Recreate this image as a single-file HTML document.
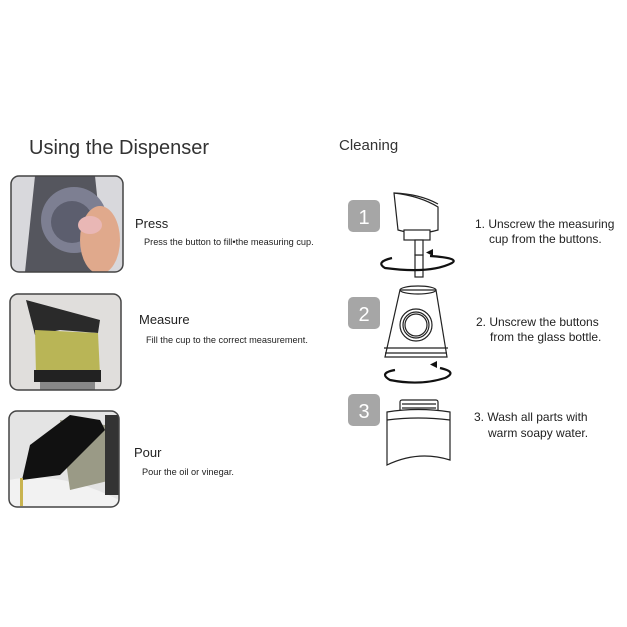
<!DOCTYPE html>
<html><head><style>
body{margin:0;background:#fff;}
svg{display:block}
text{font-family:"Liberation Sans",sans-serif;}
</style></head><body>
<svg width="627" height="627" viewBox="0 0 627 627" xmlns="http://www.w3.org/2000/svg">
<rect width="627" height="627" fill="#fff"/>
<text x="29" y="154" font-size="20" fill="#333">Using the Dispenser</text>
<text x="339" y="150" font-size="15" fill="#333">Cleaning</text>

<defs>
<clipPath id="c1"><rect x="11" y="176" width="112" height="96" rx="8"/></clipPath>
<clipPath id="c2"><rect x="10" y="294" width="111" height="96" rx="8"/></clipPath>
<clipPath id="c3"><rect x="9" y="411" width="110" height="96" rx="8"/></clipPath>
</defs>
<g clip-path="url(#c1)">
<rect x="11" y="176" width="112" height="96" fill="#d8d8dc"/>
<polygon points="35,176 95,176 105,272 25,272" fill="#55565e"/>
<circle cx="74" cy="220" r="33" fill="#7d7f92"/>
<circle cx="72" cy="222" r="21" fill="#5c5e6e"/>
<ellipse cx="100" cy="240" rx="20" ry="34" fill="#e0a98c"/>
<ellipse cx="90" cy="225" rx="12" ry="9" fill="#e9b7b5"/>
</g>
<rect x="11" y="176" width="112" height="96" rx="8" fill="none" stroke="#444" stroke-width="1.5"/>
<text x="135" y="228" font-size="13" fill="#222">Press</text>
<text x="144" y="245" font-size="9.2" fill="#222">Press the button to fill•the measuring cup.</text>

<g clip-path="url(#c2)">
<rect x="10" y="294" width="111" height="96" fill="#e0dedc"/>
<polygon points="26,300 100,320 98,333 60,330 35,335" fill="#2a2a2a"/>
<polygon points="35,330 98,333 100,375 36,375" fill="#b9b556"/>
<rect x="34" y="370" width="67" height="12" fill="#222"/>
<rect x="40" y="382" width="55" height="8" fill="#888"/>
</g>
<rect x="10" y="294" width="111" height="96" rx="8" fill="none" stroke="#444" stroke-width="1.5"/>
<text x="139" y="324" font-size="13" fill="#222">Measure</text>
<text x="146" y="343" font-size="9.2" fill="#222">Fill the cup to the correct measurement.</text>

<g clip-path="url(#c3)">
<rect x="9" y="411" width="110" height="96" fill="#e4e4e4"/>
<path d="M9,480 Q60,470 119,500 L119,507 L9,507Z" fill="#f2f2f2"/>
<polygon points="60,420 105,425 112,480 70,490" fill="#9a9a86"/>
<path d="M70,415 L100,420 L105,430 L60,475 L22,480 L30,445Z" fill="#111"/>
<rect x="105" y="415" width="14" height="80" fill="#333"/>
<rect x="20" y="478" width="3" height="28" fill="#c9b450"/>
</g>
<rect x="9" y="411" width="110" height="96" rx="8" fill="none" stroke="#444" stroke-width="1.5"/>
<text x="134" y="457" font-size="13" fill="#222">Pour</text>
<text x="142" y="475" font-size="9.2" fill="#222">Pour the oil or vinegar.</text>

<rect x="348" y="200" width="32" height="32" rx="5" fill="#a6a6a6"/>
<text x="364" y="224" font-size="20" fill="#fff" text-anchor="middle">1</text>
<rect x="348" y="297" width="32" height="32" rx="5" fill="#a6a6a6"/>
<text x="364" y="321" font-size="20" fill="#fff" text-anchor="middle">2</text>
<rect x="348" y="394" width="32" height="32" rx="5" fill="#a6a6a6"/>
<text x="364" y="418" font-size="20" fill="#fff" text-anchor="middle">3</text>

<g fill="none" stroke="#222" stroke-width="1.2">
<path d="M394,193 L398,230 Q418,236 438,230 L438,207 Q420,196 394,193Z" fill="#fff"/>
<path d="M394,193 Q420,194 438,204" />
<rect x="404" y="230" width="26" height="10" fill="#fff"/>
<rect x="415" y="255" width="8" height="22" fill="#fff"/>
<rect x="415" y="240" width="8" height="15" fill="#fff"/>
<path d="M400,290 L436,290 L447,357 L385,357Z" fill="#fff"/>
<ellipse cx="418" cy="290" rx="18" ry="4"/>
<circle cx="416" cy="325" r="16"/>
<circle cx="416" cy="325" r="13"/>
<circle cx="416" cy="325" r="11"/>
<path d="M384,348 L448,348 M385,353 L447,353"/>
<rect x="400" y="400" width="38" height="12" rx="2" fill="#fff"/>
<path d="M402,404 L436,404 M402,408 L436,408"/>
<path d="M387,412 Q418,407 450,412 L450,460 Q418,450 387,465Z" fill="#fff"/>
<path d="M387,420 Q418,416 450,420"/>
</g>
<g fill="none" stroke="#111" stroke-width="2.2">
<path d="M430,256 Q460,258 452,263 Q430,274 385,268 Q375,262 392,258"/>
<path d="M440,368 Q458,372 445,378 Q420,386 390,380 Q378,373 395,370"/>
</g>
<path d="M433,256 l-7,-3.5 7,-3.5z M437,368 l-7,-3.5 7,-3.5z" fill="#111"/>

<text x="475" y="228" font-size="12" fill="#222">1. Unscrew the measuring</text>
<text x="489" y="243" font-size="12" fill="#222">cup from the buttons.</text>
<text x="476" y="326" font-size="12" fill="#222">2. Unscrew the buttons</text>
<text x="490" y="341" font-size="12" fill="#222">from the glass bottle.</text>
<text x="474" y="421" font-size="12" fill="#222">3. Wash all parts with</text>
<text x="488" y="437" font-size="12" fill="#222">warm soapy water.</text>
</svg>
</body></html>
